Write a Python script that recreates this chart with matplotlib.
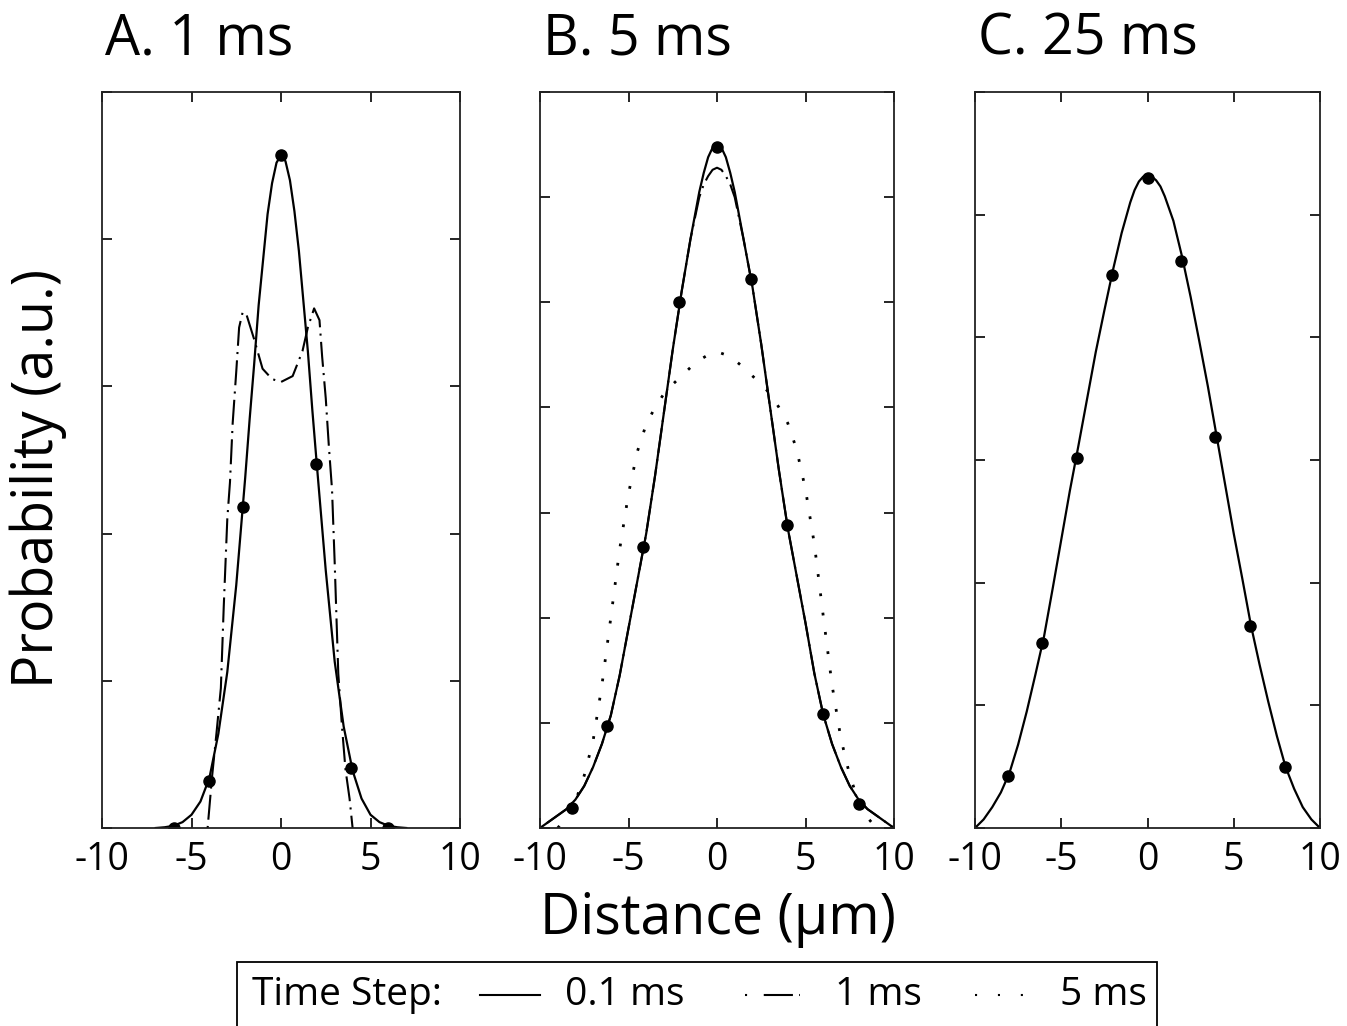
"""Diffusion profiles for three total times, compared across time steps"""

import matplotlib

matplotlib.use("Agg")
import matplotlib.pyplot as plt
from matplotlib.lines import Line2D
from matplotlib.patches import Rectangle

plt.rcParams["font.family"] = ["Open Sans", "DejaVu Sans"]

# panel A (1 ms): y in tick units, 5 divisions
dist_a = [-7, -6.5, -6, -5.5, -5, -4.5, -4, -3.5, -3, -2.5, -2, -1.75, -1.5, -1.25, -1,
          -0.75, -0.5, -0.25, 0, 0.25, 0.5, 0.75, 1, 1.25, 1.5, 1.75, 2, 2.5, 3, 3.5, 4,
          4.5, 5, 5.5, 6, 6.5, 7]
fine_a = [0.0, 0.005, 0.015, 0.04, 0.09, 0.18, 0.34, 0.64, 1.06, 1.65, 2.38, 2.78, 3.15,
          3.55, 3.86, 4.17, 4.38, 4.52, 4.57, 4.53, 4.40, 4.19, 3.92, 3.58, 3.24, 2.84,
          2.47, 1.75, 1.13, 0.69, 0.39, 0.2, 0.09, 0.04, 0.015, 0.005, 0.0]
mid_a_x = [-4.1, -3.85, -3.6, -3.36, -3.2, -3.0, -2.85, -2.7, -2.5, -2.34, -2.15, -1.96, -1.5,
           -1.03, -0.5, 0, 0.65, 1.2, 1.5, 1.85, 2.15, 2.3, 2.5, 2.67, 2.85, 3.0, 3.12, 3.2,
           3.4, 3.6, 3.83, 4.0]
mid_a = [0.0, 0.35, 0.65, 0.95, 1.5, 2.1, 2.35, 2.75, 3.1, 3.4, 3.5, 3.5, 3.32,
         3.12, 3.05, 3.03, 3.07, 3.24, 3.4, 3.53, 3.45, 3.2, 2.92, 2.6, 2.3, 1.8, 1.35, 1.05,
         0.7, 0.4, 0.2, 0.0]
dots_a_x = [-6, -4, -2.1, 0, 1.95, 3.9, 6]
dots_a = [0.0, 0.32, 2.18, 4.57, 2.47, 0.41, 0.0]

# panels B and C share this x grid
dist_bc = [-10, -9.5, -9, -8.5, -8, -7.5, -7, -6.5, -6, -5.5, -5, -4.5, -4, -3.5, -3, -2.5,
           -2, -1.5, -1, -0.75, -0.5, -0.25, 0, 0.25, 0.5, 0.75, 1, 1.5, 2, 2.5, 3, 3.5, 4,
           4.5, 5, 5.5, 6, 6.5, 7, 7.5, 8, 8.5, 9, 9.5, 10]

# panel B (5 ms): 7 divisions
fine_b = [0.0, 0.06, 0.12, 0.18, 0.27, 0.4, 0.58, 0.8, 1.07, 1.45, 1.9, 2.35, 2.8, 3.35, 3.95,
          4.55, 5.1, 5.6, 6.05, 6.23, 6.38, 6.47, 6.5, 6.47, 6.38, 6.23, 6.05, 5.6, 5.15,
          4.6, 4.0, 3.4, 2.85, 2.4, 1.95, 1.47, 1.08, 0.8, 0.58, 0.4, 0.27, 0.18, 0.12,
          0.06, 0.0]
mid_b = [0.0, 0.06, 0.12, 0.18, 0.27, 0.4, 0.58, 0.8, 1.07, 1.45, 1.9, 2.35, 2.8, 3.35, 3.95,
         4.55, 5.1, 5.6, 6.0, 6.12, 6.2, 6.26, 6.28, 6.26, 6.2, 6.12, 6.0, 5.6, 5.15, 4.6,
         4.0, 3.4, 2.85, 2.4, 1.95, 1.47, 1.08, 0.8, 0.58, 0.4, 0.27, 0.18, 0.12, 0.06, 0.0]
coarse_b_x = [-9, -8.5, -8, -7.5, -7, -6.5, -6, -5.5, -5, -4.5, -4, -3.5, -3, -2.5, -2, -1.5,
              -1, -0.5, 0, 0.5, 1, 1.5, 2, 2.5, 3, 3.5, 4, 4.5, 5, 5.5, 6, 6.5, 7, 7.5, 8,
              8.5, 9]
coarse_b = [0.0, 0.1, 0.25, 0.5, 0.83, 1.36, 2.0, 2.65, 3.18, 3.58, 3.84, 4.0, 4.13, 4.22,
            4.3, 4.38, 4.45, 4.5, 4.53, 4.5, 4.45, 4.38, 4.3, 4.22, 4.13, 4.0, 3.85, 3.6,
            3.22, 2.7, 2.02, 1.36, 0.85, 0.5, 0.25, 0.1, 0.0]
dots_b_x = [-8.2, -6.2, -4.2, -2.15, 0, 1.92, 3.95, 5.98, 8.0]
dots_b = [0.19, 0.97, 2.67, 5.0, 6.48, 5.22, 2.88, 1.08, 0.23]

# panel C (25 ms): 6 divisions
fine_c = [0.0, 0.07, 0.17, 0.29, 0.45, 0.68, 0.95, 1.25, 1.56, 1.95, 2.35, 2.75, 3.12, 3.5,
          3.88, 4.22, 4.55, 4.85, 5.1, 5.2, 5.27, 5.31, 5.32, 5.31, 5.28, 5.23, 5.15, 4.95,
          4.66, 4.33, 3.97, 3.6, 3.2, 2.8, 2.4, 2.03, 1.65, 1.33, 1.03, 0.75, 0.5, 0.32,
          0.17, 0.07, 0.0]
dots_c_x = [-8.1, -6.1, -4.1, -2.06, 0, 1.96, 3.94, 5.96, 7.98]
dots_c = [0.42, 1.51, 3.02, 4.51, 5.3, 4.62, 3.19, 1.65, 0.5]

titles = ["A. 1 ms", "B. 5 ms", "C. 25 ms"]
n_div = [5, 7, 6]
xticks = [-10, -5, 0, 5, 10]

DASHDOT = (0, (1, 3, 12, 3))
DOTTED = (0, (1, 6))

W, H = 1347, 1026
fig = plt.figure(figsize=(W / 100, H / 100), dpi=100)

# axes boxes in pixels: left, right
boxes = [(102, 460), (540, 894), (975, 1320)]
top, bottom = 92, 828
axes = []
for (l, r), title, nd in zip(boxes, titles, n_div):
    ax = fig.add_axes([l / W, 1 - bottom / H, (r - l) / W, (bottom - top) / H])
    ax.set_xlim(-10, 10)
    ax.set_ylim(0, nd)
    ax.set_xticks(xticks)
    ax.set_xticklabels(["-10", "-5", "0", "5", "10"])
    ax.set_yticks(range(nd + 1))
    ax.set_yticklabels([])
    ax.tick_params(direction="in", top=True, right=True, length=7, width=1.2,
                   labelsize=27, pad=9)
    for sp in ax.spines.values():
        sp.set_linewidth(1.3)
        sp.set_color("#222222")
    fig.text(l / W + 0.002, 1 - 40 / H, title, fontsize=40, va="center", ha="left")
    axes.append(ax)

ax_a, ax_b, ax_c = axes

# A
ax_a.plot(dist_a, fine_a, color="black", lw=1.6)
ax_a.plot(mid_a_x, mid_a, color="black", lw=1.5, linestyle=DASHDOT)
ax_a.plot(dots_a_x, dots_a, "o", color="black", markersize=8)

# B
ax_b.plot(coarse_b_x, coarse_b, color="black", lw=2, linestyle=DOTTED)
ax_b.plot(dist_bc, mid_b, color="black", lw=1.5, linestyle=DASHDOT)
ax_b.plot(dist_bc, fine_b, color="black", lw=1.6)
ax_b.plot(dots_b_x, dots_b, "o", color="black", markersize=8)

# C
ax_c.plot(dist_bc, fine_c, color="black", lw=1.6)
ax_c.plot(dots_c_x, dots_c, "o", color="black", markersize=8)

fig.text(38 / W, 1 - 478 / H, "Probability (a.u.)", fontsize=40, rotation=90,
         ha="center", va="center")
fig.text(718 / W, 1 - 920 / H, "Distance (\u03bcm)", fontsize=40, ha="center", va="center")

# legend box, drawn by hand (bottom edge runs off the figure)
fig.patches.append(Rectangle((237 / W, -0.02), (1157 - 237) / W, 0.02 + 1 - 962 / H,
                             transform=fig.transFigure, fill=False, edgecolor="black",
                             lw=1.3))
ly = 1 - 995 / H
fig.text(252 / W, ly, "Time Step:", fontsize=28, va="center")
fig.lines.append(Line2D([480 / W, 540 / W], [ly, ly], transform=fig.transFigure,
                        color="black", lw=1.5))
fig.text(565 / W, ly, "0.1 ms", fontsize=28, va="center")
fig.lines.append(Line2D([745 / W, 800 / W], [ly, ly], transform=fig.transFigure,
                        color="black", lw=1.5, linestyle=(0, (1, 8, 14, 3))))
fig.text(835 / W, ly, "1 ms", fontsize=28, va="center")
fig.lines.append(Line2D([975 / W, 1032 / W], [ly, ly], transform=fig.transFigure,
                        color="black", lw=1.5, linestyle=(0, (1, 10))))
fig.text(1060 / W, ly, "5 ms", fontsize=28, va="center")

fig.savefig("out.png", dpi=100, facecolor="white")
